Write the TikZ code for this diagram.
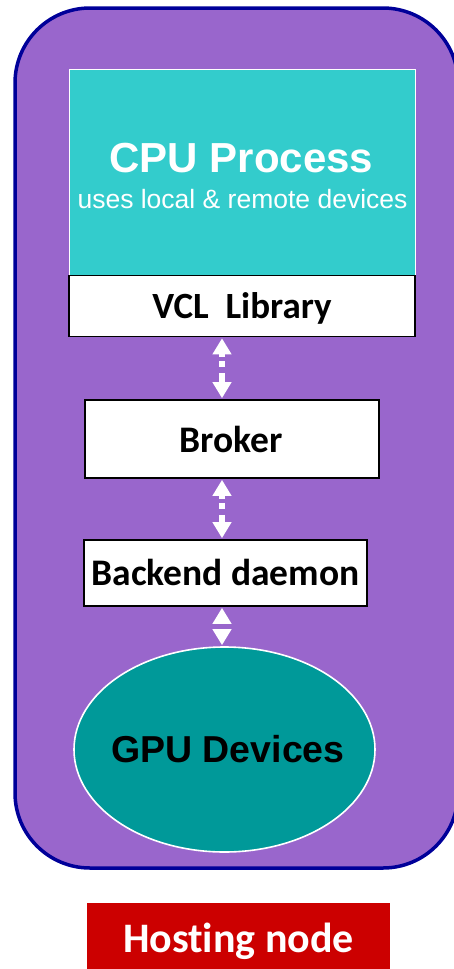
\documentclass[tikz,border=0pt]{standalone}
\usepackage{fontspec}
\setmainfont{Liberation Sans}
\newfontfamily\calibfont[Ligatures=NoCommon]{Carlito}
\usetikzlibrary{arrows.meta,shapes.geometric}
\definecolor{hostpurple}{HTML}{9966CC}
\definecolor{hostrim}{HTML}{000099}
\definecolor{cputeal}{HTML}{33CCCC}
\definecolor{gputeal}{HTML}{009999}
\definecolor{tagred}{HTML}{CC0000}
\tikzset{
  layerbox/.style={draw=black, line width=1.6pt, fill=white, inner sep=0pt},
  lbl/.style={anchor=base, inner sep=0pt, font=\calibfont\bfseries\fontsize{37.5}{42}\selectfont},
  biarrow/.style={white, line width=6pt, shorten <=1pt, shorten >=1pt,
    {Triangle[width=18pt,length=16pt]}-{Triangle[width=18pt,length=16pt]}},
}
\begin{document}
\begin{tikzpicture}[x=1pt,y=-1pt]
\useasboundingbox (0,0) rectangle (453,969);
% hosting node frame
\draw[line width=3.5pt, draw=hostrim, fill=hostpurple, rounded corners=75pt]
  (15,8) rectangle (458,868);
% CPU process and its VCL library
\node[draw=white, line width=0.8pt, fill=cputeal, inner sep=0pt,
      minimum width=346pt, minimum height=206pt] (cpu) at (242,172.5) {};
\node[anchor=base, inner sep=0pt, text=white,
      font=\bfseries\fontsize{42}{46}\selectfont] (cputitle) at (241.5,172) {CPU Process};
\node[anchor=base, inner sep=0pt, text=white,
      font=\fontsize{26.5}{30}\selectfont] (cpusub) at (242.5,208) {uses local \& remote devices};
\node[layerbox, minimum width=346pt, minimum height=61pt] (vcl) at (242,306) {};
\node[lbl, font=\calibfont\bfseries\fontsize{37}{42}\selectfont] (vcltext) at (242,318) {VCL\ \ Library};
% broker and backend daemon
\node[layerbox, minimum width=294pt, minimum height=78pt] (broker) at (232,439) {};
\node[lbl] (brokertext) at (231,452) {Broker};
\node[layerbox, minimum width=283pt, minimum height=66pt] (backend) at (225.5,573) {};
\node[lbl, font=\calibfont\bfseries\fontsize{37.5}{42}\selectfont] (backendtext) at (225.5,585) {Backend daemon};
% GPU devices
\node[ellipse, draw=white, line width=1.6pt, fill=gputeal, inner sep=0pt,
      minimum width=301pt, minimum height=205pt] (gpu) at (224.5,749.5) {};
\node[anchor=base, inner sep=0pt, font=\bfseries\fontsize{37.5}{42}\selectfont]
  (gputext) at (228,762) {GPU Devices};
% links between the layers
\coordinate (axis) at (222,0);
\draw[biarrow, dash pattern=on 4pt off 4pt on 6pt off 6pt on 20pt]
  (vcl.south -| axis) -- (broker.north -| axis);
\draw[biarrow, dash pattern=on 4pt off 4pt on 6pt off 6pt on 20pt]
  (broker.south -| axis) -- (backend.north -| axis);
\draw[biarrow, dash pattern=on 0pt off 7pt on 20pt]
  (backend.south -| axis) -- (gpu.north -| axis);
% caption
\node[fill=tagred, inner sep=0pt, minimum width=303pt, minimum height=66pt] (tag) at (238.5,936) {};
\node[anchor=base, inner sep=0pt, text=white,
      font=\calibfont\bfseries\fontsize{42}{46}\selectfont] (tagtext) at (238.5,952) {Hosting node};
\end{tikzpicture}
\end{document}
